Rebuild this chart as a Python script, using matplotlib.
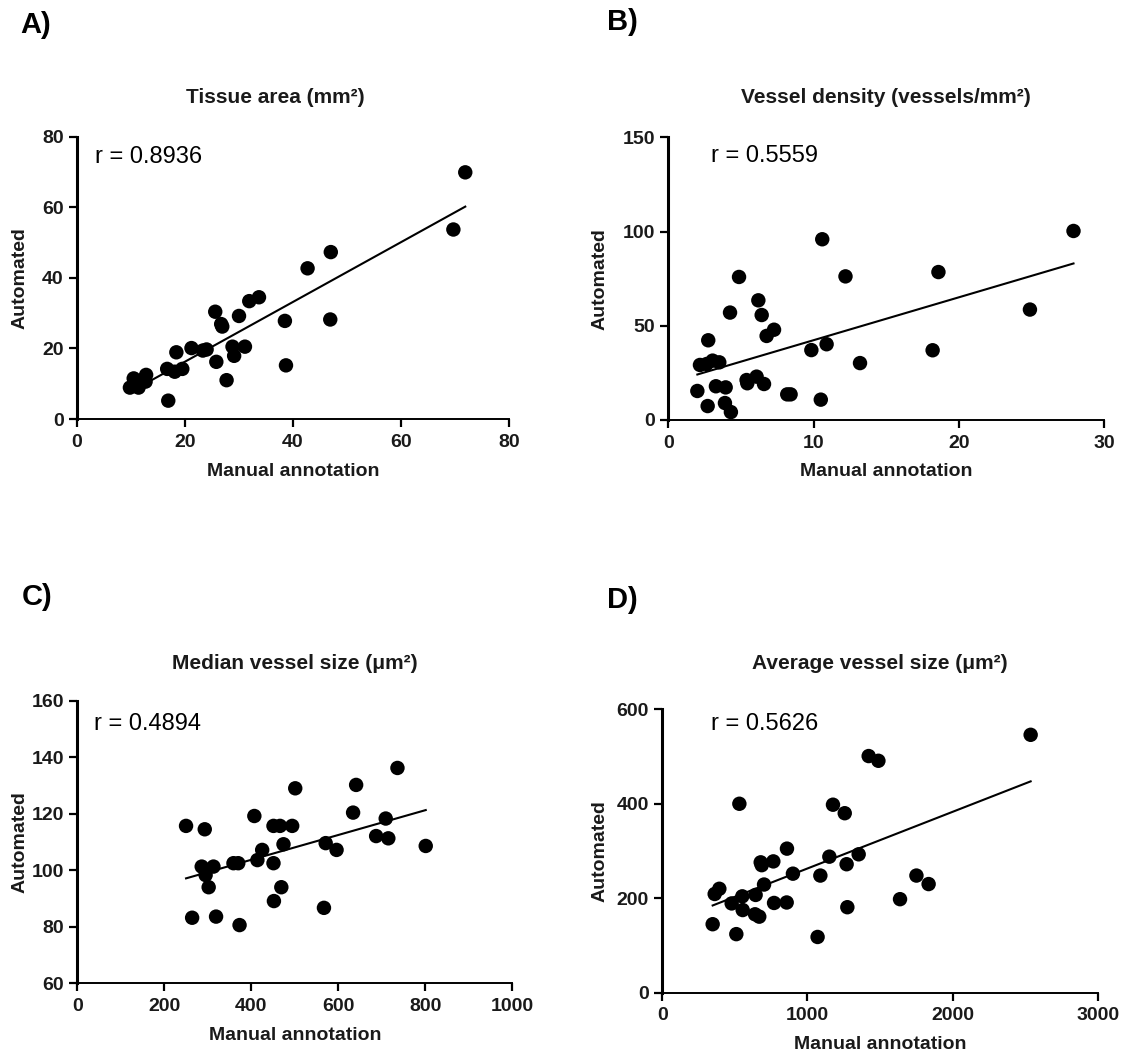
import numpy as np
import matplotlib
matplotlib.use("Agg")
import matplotlib.pyplot as plt

# ---------------- data ----------------
tissue_manual = [71.9, 69.7, 47.0, 42.7, 46.9, 33.7, 31.9, 38.5, 38.7, 30.0, 25.6, 26.7, 26.9,
                 28.8, 31.1, 29.1, 25.8, 27.7, 21.2, 23.3, 24.0, 18.4, 16.7, 18.1, 19.5,
                 16.9, 12.8, 12.7, 10.5, 9.8, 11.4, 11.0]
tissue_auto = [69.9, 53.7, 47.3, 42.7, 28.2, 34.5, 33.4, 27.8, 15.2, 29.2, 30.4, 26.9, 26.2,
               20.5, 20.5, 17.9, 16.2, 11.0, 20.1, 19.4, 19.7, 18.9, 14.2, 13.4, 14.2,
               5.2, 12.5, 10.6, 11.5, 8.9, 8.9, 10.1]

density_manual = [27.9, 18.6, 24.9, 18.2, 10.6, 12.2, 13.2, 10.9, 9.85, 10.5, 4.87, 4.25, 6.2,
                  6.43, 6.77, 7.28, 2.75, 2.18, 2.64, 3.05, 3.51, 2.0, 3.28, 3.95, 2.71,
                  3.9, 4.31, 5.39, 5.44, 6.08, 6.59, 8.19, 8.42]
density_auto = [100.3, 78.5, 58.6, 37.0, 95.9, 76.2, 30.2, 40.2, 37.1, 10.8, 75.9, 57.0, 63.5,
                55.7, 44.6, 47.9, 42.3, 29.2, 29.7, 31.5, 30.6, 15.4, 17.9, 17.3, 7.4,
                9.0, 4.2, 21.2, 19.5, 23.0, 19.1, 13.6, 13.6]

median_manual = [736, 501, 641, 634, 709, 687, 715, 801, 571, 596, 567, 407, 451, 466, 494,
                 474, 425, 414, 451, 469, 452, 250, 293, 286, 313, 295, 302, 359, 370,
                 264, 319, 373]
median_auto = [136.2, 129.0, 130.2, 120.4, 118.3, 112.1, 111.3, 108.6, 109.6, 107.2, 86.7,
               119.2, 115.7, 115.7, 115.7, 109.2, 107.2, 103.6, 102.5, 94.0, 89.1, 115.7,
               114.5, 101.3, 101.3, 98.3, 94.0, 102.5, 102.5, 83.2, 83.6, 80.6]

average_manual = [2538, 1422, 1489, 531, 1176, 1257, 859, 1353, 1151, 1270, 678, 685, 765,
                  900, 1089, 701, 1751, 1835, 1638, 1275, 1070, 361, 393, 551, 478, 554,
                  643, 639, 668, 770, 857, 347, 510]
average_auto = [546, 501, 491, 400, 398, 380, 305, 293, 288, 272, 276, 270, 278, 252, 248,
                229, 248, 230, 198, 181, 118, 209, 220, 204, 189, 175, 207, 166, 161, 190,
                191, 145, 124]

panel_letters = ["A)", "B)", "C)", "D)"]
titles = ["Tissue area (mm²)", "Vessel density (vessels/mm²)",
          "Median vessel size (μm²)", "Average vessel size (μm²)"]
r_texts = ["r = 0.8936", "r = 0.5559", "r = 0.4894", "r = 0.5626"]
xlims = [(0, 80), (0, 30), (0, 1000), (0, 3000)]
ylims = [(0, 80), (0, 150), (60, 160), (0, 600)]
xticks = [[0, 20, 40, 60, 80], [0, 10, 20, 30], [0, 200, 400, 600, 800, 1000], [0, 1000, 2000, 3000]]
yticks = [[0, 20, 40, 60, 80], [0, 50, 100, 150], [60, 80, 100, 120, 140, 160], [0, 200, 400, 600]]

xs = [tissue_manual, density_manual, median_manual, average_manual]
ys = [tissue_auto, density_auto, median_auto, average_auto]

# ---------------- layout ----------------
W, H = 1128, 1059
fig = plt.figure(figsize=(W / 100, H / 100), dpi=100)
plt.rcParams['font.family'] = ['Liberation Sans', 'DejaVu Sans']

# pixel boxes: left, right, top, bottom
boxes = [(77, 509, 136.7, 419), (668.3, 1104, 137.3, 420),
         (77.3, 512.3, 700.7, 983.3), (662.3, 1097.7, 709.3, 992.7)]
letter_pos = [(20, 25), (607, 22), (22, 597), (607, 600)]
title_pads = [24, 25, 23, 29]
title_x = [0.46, 0.5, 0.5, 0.5]
ylab_x = [-57, -68, -57, -62]
r_pos = [(0.042, 0.908), (0.098, 0.914), (0.039, 0.896), (0.112, 0.927)]

for i in range(4):
    l, r, t, b = boxes[i]
    ax = fig.add_axes([l / W, 1 - b / H, (r - l) / W, (b - t) / H])
    x = np.array(xs[i], dtype=float)
    y = np.array(ys[i], dtype=float)
    ax.scatter(x, y, s=108, color='black', edgecolors='none', zorder=3, clip_on=False)
    k, c = np.polyfit(x, y, 1)
    xx = np.array([x.min(), x.max()])
    ax.plot(xx, k * xx + c, color='black', lw=1.5, zorder=2)

    ax.set_xlim(*xlims[i])
    ax.set_ylim(*ylims[i])
    ax.set_xticks(xticks[i])
    ax.set_yticks(yticks[i])
    for s in ['top', 'right']:
        ax.spines[s].set_visible(False)
    ax.spines['left'].set_linewidth(2.2)
    ax.spines['bottom'].set_linewidth(1.4)
    ax.tick_params(axis='y', direction='out', length=5.5, width=1.6, pad=4)
    ax.tick_params(axis='x', direction='out', length=5.5, width=1.6, pad=5)
    for lab in ax.get_xticklabels() + ax.get_yticklabels():
        lab.set_fontsize(14)
        lab.set_fontweight('bold')
        lab.set_color('#1a1a1a')

    ax.set_xlabel("Manual annotation", fontsize=14, fontweight='bold', color='#1a1a1a')
    ax.set_ylabel("Automated", fontsize=14, fontweight='bold', color='#1a1a1a')
    ax.xaxis.label.set_va('center')
    ax.yaxis.label.set_va('center')
    ax.xaxis.set_label_coords(0.5, -52 / (b - t))
    ax.yaxis.set_label_coords(ylab_x[i] / (r - l), 0.5)

    ax.set_title(titles[i], fontsize=15, fontweight='bold', pad=title_pads[i],
                 x=title_x[i], color='#1a1a1a')
    ax.text(r_pos[i][0], r_pos[i][1], r_texts[i], transform=ax.transAxes,
            fontsize=17, ha='left', va='baseline')

    lx, ly = letter_pos[i]
    fig.text(lx / W, 1 - ly / H, panel_letters[i], fontsize=21, fontweight='bold',
             ha='left', va='center')

fig.savefig("out.png", dpi=100)
